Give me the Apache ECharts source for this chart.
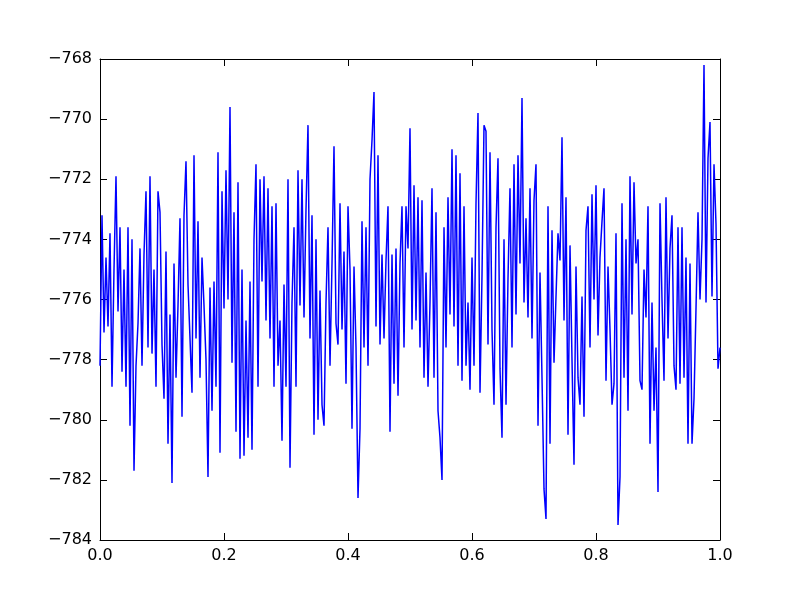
<!DOCTYPE html>
<html>
<head>
<meta charset="utf-8">
<script src="https://cdn.jsdelivr.net/npm/echarts@6/dist/echarts.min.js"></script>
<style>html,body{margin:0;padding:0;background:#fff;}#c{width:800px;height:600px;}</style>
</head>
<body>
<div id="c"></div>
<script>
// x tick labels and y tick labels
const xTicks = [0.0, 0.2, 0.4, 0.6, 0.8, 1.0];
const yTicks = [-784, -782, -780, -778, -776, -774, -772, -770, -768];

// series values (evenly spaced over x = 0..1)
const values = [
  -778.2, -773.2, -777.1, -774.6, -776.9, -773.8, -778.9, -775.0, -771.9, -776.4,
  -773.6, -778.4, -775.0, -778.9, -773.6, -780.2, -774.0, -781.7, -778.2, -776.8,
  -774.3, -778.2, -774.5, -772.4, -777.6, -771.9, -777.8, -775.0, -778.9, -772.4,
  -773.1, -777.5, -779.3, -774.4, -780.8, -776.5, -782.1, -774.8, -778.6, -776.2,
  -773.3, -779.9, -773.2, -771.4, -775.5, -777.3, -779.1, -771.2, -777.3, -773.4,
  -778.6, -774.6, -776.2, -778.0, -781.9, -775.6, -779.7, -775.4, -778.9, -771.1,
  -781.1, -772.4, -776.3, -771.7, -776.0, -769.6, -778.1, -773.1, -780.4, -772.1,
  -781.3, -775.0, -781.2, -776.7, -780.6, -775.4, -781.0, -774.0, -771.5, -778.9,
  -772.0, -775.4, -771.9, -776.7, -772.3, -777.3, -772.9, -778.9, -772.8, -778.2,
  -776.7, -780.7, -775.5, -778.9, -772.0, -781.6, -776.1, -773.6, -778.9, -771.7,
  -776.2, -772.0, -776.6, -773.0, -770.2, -777.3, -773.2, -780.5, -774.0, -780.0,
  -775.7, -779.5, -780.2, -776.1, -773.6, -778.2, -774.8, -770.9, -776.8, -777.5,
  -772.8, -777.0, -774.4, -778.8, -772.9, -775.0, -780.3, -774.9, -777.6, -782.6,
  -780.3, -773.4, -777.6, -773.6, -778.2, -772.0, -770.7, -769.1, -776.9, -771.2,
  -777.5, -774.5, -777.3, -774.7, -772.9, -780.4, -774.5, -778.8, -774.3, -779.2,
  -774.8, -772.9, -777.6, -772.9, -774.3, -770.3, -777.0, -772.2, -776.7, -772.6,
  -777.6, -772.7, -778.6, -775.1, -778.9, -776.1, -772.3, -778.6, -773.1, -779.7,
  -780.6, -782.0, -773.6, -777.6, -772.6, -776.5, -771.0, -776.9, -771.2, -778.2,
  -771.8, -778.7, -772.9, -778.2, -776.1, -779.0, -774.6, -778.2, -772.8, -769.8,
  -779.1, -775.2, -770.2, -770.4, -777.5, -771.1, -777.0, -779.5, -773.6, -771.3,
  -778.3, -780.6, -774.0, -779.5, -775.3, -772.3, -777.6, -771.5, -776.5, -771.2,
  -774.8, -769.3, -776.1, -773.3, -776.6, -772.3, -777.3, -772.7, -771.5, -780.2,
  -775.1, -778.6, -782.3, -783.3, -772.9, -780.8, -773.7, -778.1, -775.9, -773.8,
  -774.7, -770.6, -776.7, -772.6, -780.5, -774.2, -778.0, -781.5, -774.9, -778.6,
  -779.5, -775.9, -779.9, -773.7, -772.9, -777.6, -772.5, -776.0, -772.2, -777.2,
  -774.6, -773.4, -772.3, -778.7, -774.9, -777.0, -779.5, -778.8, -773.8, -783.5,
  -781.9, -772.8, -778.6, -774.0, -779.7, -771.9, -776.5, -772.1, -774.8, -774.0,
  -778.7, -779.0, -775.0, -776.6, -772.9, -780.8, -776.1, -779.7, -777.6, -782.4,
  -772.8, -776.0, -778.7, -772.6, -777.3, -774.3, -773.2, -778.2, -779.0, -773.6,
  -778.8, -773.6, -778.6, -774.6, -780.8, -774.8, -780.8, -779.3, -776.3, -773.1,
  -776.0, -774.0, -768.2, -776.1, -771.3, -770.1, -775.9, -771.5, -773.5, -778.3,
  -777.6
];

const n = values.length;
const points = values.map((v, i) => [i / (n - 1), v]);

const FONT = 'DejaVu Sans';
const fmtNum = (v, dec) => {
  const s = dec ? v.toFixed(1) : String(Math.round(v));
  return s.replace('-', '\u2212');
};

const chart = echarts.init(document.getElementById('c'), null, { renderer: 'canvas' });

const axisLine = { show: true, onZero: false, lineStyle: { color: '#000', width: 1 } };
const tickStyle = { show: true, inside: true, length: 7, lineStyle: { color: '#000', width: 1 } };

chart.setOption({
  animation: false,
  backgroundColor: '#fff',
  grid: { left: 100, right: 80, top: 59, bottom: 60, show: false },
  xAxis: [
    {
      type: 'value', min: 0, max: 1, interval: 0.2, position: 'bottom',
      axisLine: axisLine, axisTick: tickStyle, splitLine: { show: false },
      axisLabel: { show: true, margin: 8, color: '#000', fontFamily: FONT, fontSize: 16,
        formatter: v => fmtNum(v, true) }
    },
    {
      type: 'value', min: 0, max: 1, interval: 0.2, position: 'top',
      axisLine: axisLine, axisTick: tickStyle, splitLine: { show: false },
      axisLabel: { show: false }
    }
  ],
  yAxis: [
    {
      type: 'value', min: -784, max: -768, interval: 2, position: 'left',
      axisLine: axisLine, axisTick: tickStyle, splitLine: { show: false },
      axisLabel: { show: true, margin: 8, color: '#000', fontFamily: FONT, fontSize: 16,
        formatter: v => fmtNum(v, false) }
    },
    {
      type: 'value', min: -784, max: -768, interval: 2, position: 'right',
      axisLine: axisLine, axisTick: tickStyle, splitLine: { show: false },
      axisLabel: { show: false }
    }
  ],
  series: [
    {
      type: 'line', xAxisIndex: 0, yAxisIndex: 0,
      data: points, showSymbol: false, symbol: 'none',
      lineStyle: { color: '#0000ff', width: 1.5 },
      clip: true
    }
  ]
});
</script>
</body>
</html>
